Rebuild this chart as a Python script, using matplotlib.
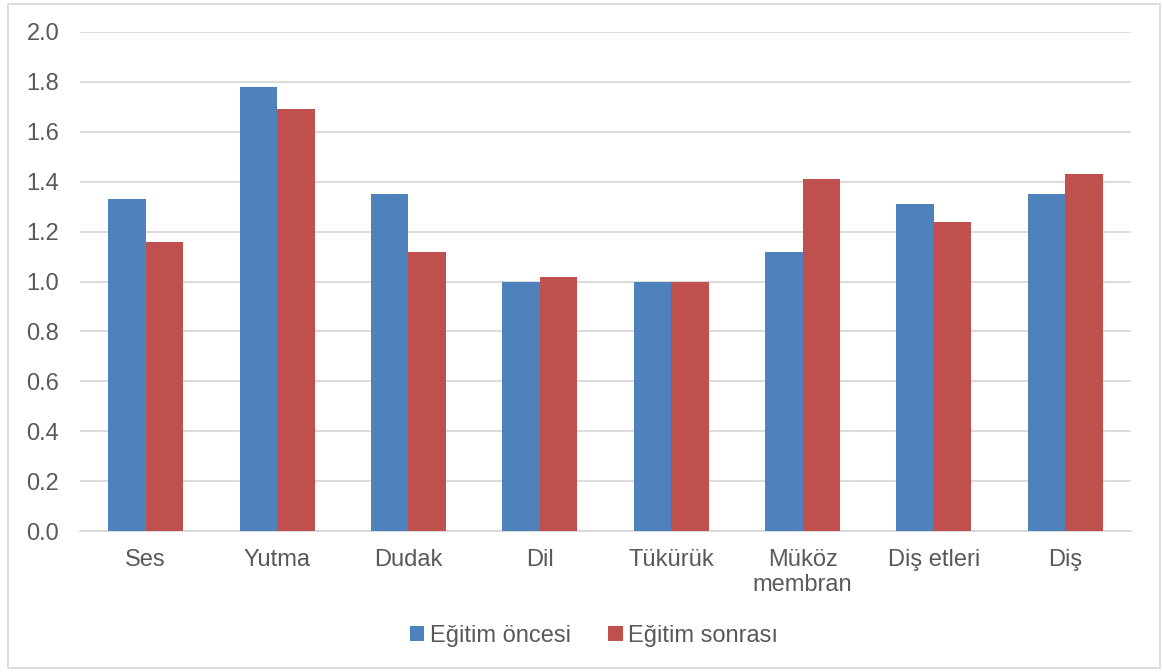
import matplotlib
matplotlib.use("Agg")
import matplotlib.pyplot as plt
import numpy as np
from matplotlib.patches import Rectangle

categories = ["Ses", "Yutma", "Dudak", "Dil", "Tükürük", "Müköz\nmembran", "Diş etleri", "Diş"]
series_names = ["Eğitim öncesi", "Eğitim sonrası"]
before = [1.33, 1.78, 1.35, 1.00, 1.00, 1.12, 1.31, 1.35]
after = [1.16, 1.69, 1.12, 1.02, 1.00, 1.41, 1.24, 1.43]
colors = ["#4F81BD", "#C0504D"]
yticks = [0.0, 0.2, 0.4, 0.6, 0.8, 1.0, 1.2, 1.4, 1.6, 1.8, 2.0]

plt.rcParams['font.family'] = ['Liberation Sans', 'DejaVu Sans']
W, H = 1162, 672
fig = plt.figure(figsize=(W/100, H/100), dpi=100)
ax = fig.add_axes([80/W, 1-531/H, (1131-80)/W, (531-32)/H])

x = np.arange(len(categories))
bw = 0.285
ax.bar(x - bw/2, before, bw, color=colors[0], label=series_names[0], zorder=3)
ax.bar(x + bw/2, after, bw, color=colors[1], label=series_names[1], zorder=3)

ax.set_xlim(-0.5, len(categories) - 0.5)
ax.set_ylim(0, 2.0)
ax.set_yticks(yticks)
ax.set_yticklabels([f"{v:.1f}" for v in yticks])
ax.set_xticks(x)
ax.set_xticklabels(categories, linespacing=1.15)
ax.tick_params(axis='both', length=0, labelsize=17, colors="#595959")
ax.tick_params(axis='x', pad=13)
ax.tick_params(axis='y', pad=15)
ax.yaxis.grid(True, color="#d9d9d9", linewidth=1.3, zorder=0)
for s in ["top", "right", "left"]:
    ax.spines[s].set_visible(False)
ax.spines["bottom"].set_color("#d9d9d9")
ax.spines["bottom"].set_linewidth(1.3)

leg = fig.legend(loc="center", bbox_to_anchor=(594/W, 1-636/H), ncol=2, frameon=False,
                 fontsize=17, handlelength=0.6, handleheight=0.6, handletextpad=0.25,
                 columnspacing=1.6)
for t in leg.get_texts():
    t.set_color("#595959")

fig.patches.append(Rectangle((8/W, 4/H), (1160-8)/W, (668-4)/H, transform=fig.transFigure,
                             fill=False, edgecolor="#d9d9d9", linewidth=1.3))

fig.savefig("out.png", dpi=100)
